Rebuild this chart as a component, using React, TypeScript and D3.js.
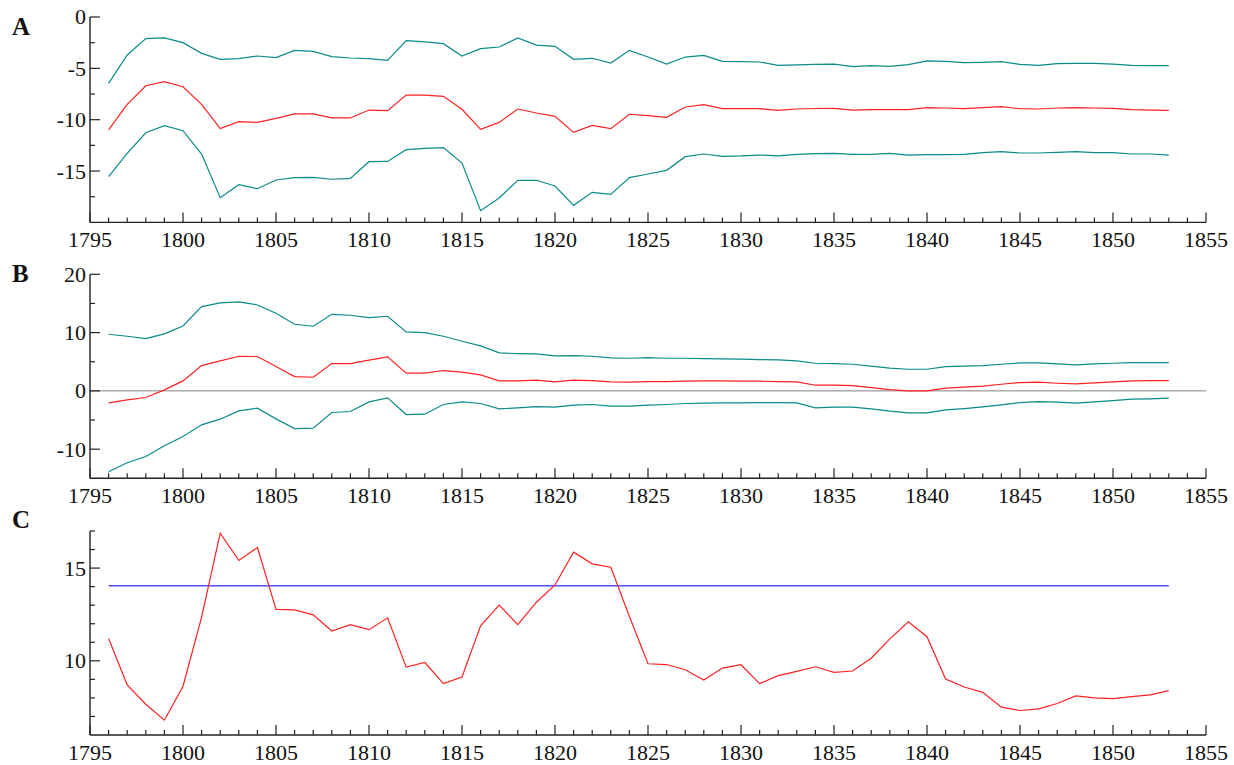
import React from "react";
import * as d3 from "d3";

const years = [
  1796, 1797, 1798, 1799, 1800, 1801, 1802, 1803, 1804, 1805,
  1806, 1807, 1808, 1809, 1810, 1811, 1812, 1813, 1814, 1815,
  1816, 1817, 1818, 1819, 1820, 1821, 1822, 1823, 1824, 1825,
  1826, 1827, 1828, 1829, 1830, 1831, 1832, 1833, 1834, 1835,
  1836, 1837, 1838, 1839, 1840, 1841, 1842, 1843, 1844, 1845,
  1846, 1847, 1848, 1849, 1850, 1851, 1852, 1853,
];

const aUpper = [
  -6.46, -3.7, -2.11, -2.04, -2.5, -3.54, -4.12, -4.06, -3.8, -3.96,
  -3.25, -3.34, -3.86, -3.99, -4.06, -4.22, -2.3, -2.43, -2.6, -3.8,
  -3.08, -2.92, -2.04, -2.73, -2.86, -4.12, -4.02, -4.48, -3.25, -3.9,
  -4.58, -3.9, -3.73, -4.32, -4.35, -4.38, -4.71, -4.67, -4.61, -4.58,
  -4.84, -4.74, -4.8, -4.64, -4.28, -4.32, -4.45, -4.41, -4.35, -4.61,
  -4.71, -4.54, -4.51, -4.51, -4.58, -4.71, -4.74, -4.74,
];
const aMid = [
  -11.0, -8.5, -6.69, -6.3, -6.79, -8.5, -10.87, -10.19, -10.26, -9.87,
  -9.44, -9.44, -9.83, -9.83, -9.06, -9.12, -7.6, -7.6, -7.72, -8.99,
  -10.94, -10.26, -8.96, -9.35, -9.67, -11.23, -10.55, -10.87, -9.47, -9.61,
  -9.77, -8.76, -8.54, -8.93, -8.93, -8.93, -9.09, -8.96, -8.91, -8.89,
  -9.06, -9.02, -9.02, -9.02, -8.83, -8.86, -8.93, -8.83, -8.73, -8.93,
  -8.96, -8.86, -8.83, -8.86, -8.89, -9.02, -9.06, -9.09,
];
const aLower = [
  -15.55, -13.28, -11.27, -10.58, -11.07, -13.34, -17.59, -16.33, -16.72, -15.87,
  -15.64, -15.61, -15.8, -15.71, -14.09, -14.06, -12.92, -12.79, -12.72, -14.22,
  -18.86, -17.62, -15.9, -15.9, -16.46, -18.34, -17.07, -17.27, -15.64, -15.29,
  -14.93, -13.6, -13.34, -13.57, -13.53, -13.44, -13.53, -13.37, -13.31, -13.28,
  -13.37, -13.37, -13.28, -13.44, -13.41, -13.41, -13.37, -13.21, -13.11, -13.24,
  -13.24, -13.18, -13.11, -13.21, -13.21, -13.34, -13.34, -13.44,
];

const bUpper = [
  9.71, 9.37, 8.97, 9.77, 11.14, 14.46, 15.09, 15.26, 14.74, 13.31,
  11.43, 11.09, 13.14, 12.97, 12.57, 12.8, 10.11, 10.0, 9.37, 8.51,
  7.71, 6.51, 6.4, 6.34, 6.0, 6.06, 5.94, 5.66, 5.6, 5.71,
  5.6, 5.6, 5.54, 5.49, 5.43, 5.37, 5.31, 5.14, 4.74, 4.69,
  4.57, 4.23, 3.89, 3.71, 3.71, 4.17, 4.23, 4.34, 4.57, 4.8,
  4.8, 4.63, 4.46, 4.63, 4.74, 4.86, 4.86, 4.86,
];
const bMid = [
  -2.06, -1.54, -1.14, 0.17, 1.71, 4.34, 5.14, 5.94, 5.89, 4.17,
  2.46, 2.34, 4.69, 4.69, 5.26, 5.83, 3.03, 3.03, 3.49, 3.2,
  2.74, 1.71, 1.71, 1.83, 1.54, 1.83, 1.77, 1.54, 1.49, 1.6,
  1.6, 1.66, 1.71, 1.71, 1.66, 1.66, 1.6, 1.54, 0.97, 0.97,
  0.91, 0.57, 0.23, 0, 0, 0.46, 0.63, 0.8, 1.14, 1.43,
  1.49, 1.31, 1.2, 1.37, 1.54, 1.71, 1.77, 1.77,
];
const bLower = [
  -13.89, -12.34, -11.26, -9.43, -7.83, -5.83, -4.86, -3.43, -2.97, -4.8,
  -6.46, -6.4, -3.71, -3.54, -1.89, -1.2, -4.06, -4.0, -2.34, -1.89,
  -2.17, -3.09, -2.91, -2.69, -2.8, -2.46, -2.34, -2.63, -2.63, -2.46,
  -2.34, -2.17, -2.11, -2.06, -2.06, -2.0, -2.0, -2.06, -2.91, -2.8,
  -2.8, -3.09, -3.49, -3.77, -3.77, -3.26, -3.03, -2.74, -2.4, -2.0,
  -1.83, -1.94, -2.11, -1.89, -1.66, -1.43, -1.37, -1.26,
];

const cValues = [
  11.2, 8.7, 7.66, 6.8, 8.63, 12.36, 16.88, 15.41, 16.11, 12.77,
  12.75, 12.48, 11.61, 11.95, 11.68, 12.32, 9.66, 9.91, 8.77, 9.13,
  11.89, 13.0, 11.95, 13.16, 14.09, 15.86, 15.23, 15.05, 12.39, 9.84,
  9.8, 9.52, 8.96, 9.61, 9.79, 8.77, 9.2, 9.43, 9.68, 9.38,
  9.45, 10.14, 11.18, 12.11, 11.3, 9.02, 8.59, 8.3, 7.5, 7.32,
  7.41, 7.7, 8.11, 8.0, 7.96, 8.07, 8.16, 8.39,
];
const cReference = 14.05;

const xMajorTicks = [1795, 1800, 1805, 1810, 1815, 1820, 1825, 1830, 1835, 1840, 1845, 1850, 1855];
const aYLabels = [-15, -10, -5, 0];
const aYMinor = [-17.5, -12.5, -7.5, -2.5];
const bYLabels = [-10, 0, 10, 20];
const bYMinor = [-5, 5, 15];
const cYLabels = [10, 15];
const cYMinor = [7, 8, 9, 11, 12, 13, 14, 16, 17];

const TEAL = "#0a8a8a";
const RED = "#ff2020";
const BLUE = "#5050ff";
const AXIS = "#222";
const FONT = "Liberation Serif";

const X0 = 90;
const X1 = 1206;
const x = d3.scaleLinear().domain([1795, 1855]).range([X0, X1]);

type PanelProps = {
  letter: string;
  letterY: number;
  domain: [number, number];
  top: number;
  bottom: number;
  labels: number[];
  minor: number[];
  children: (y: d3.ScaleLinear<number, number>) => React.ReactNode;
};

const textStyle: React.CSSProperties = { fontFamily: FONT, fontSize: "22px" };

function Panel({ letter, letterY, domain, top, bottom, labels, minor, children }: PanelProps) {
  const y = d3.scaleLinear().domain(domain).range([bottom, top]);
  const minorYears = d3.range(1796, 1855).filter((v) => v % 5 !== 0);
  return (
    <g>
      <text
        x={12}
        y={letterY}
        style={{ fontFamily: FONT, fontWeight: "bold", fontSize: "25px" }}
        fill="#111"
      >
        {letter}
      </text>
      {children(y)}
      <line x1={X0} x2={X0} y1={y(domain[1])} y2={bottom} stroke={AXIS} strokeWidth={1.4} />
      <line x1={X0} x2={X1} y1={bottom} y2={bottom} stroke={AXIS} strokeWidth={1.4} />
      {labels.map((v) => (
        <g key={"yl" + v}>
          <line x1={X0} x2={X0 + 10} y1={y(v)} y2={y(v)} stroke={AXIS} strokeWidth={1.2} />
          <text x={X0 - 4} y={y(v)} dy="0.34em" textAnchor="end" style={textStyle} fill="#111">
            {String(v)}
          </text>
        </g>
      ))}
      {minor.map((v) => (
        <line key={"ym" + v} x1={X0} x2={X0 + 5} y1={y(v)} y2={y(v)} stroke={AXIS} strokeWidth={1.2} />
      ))}
      {xMajorTicks.map((t) => (
        <g key={"xl" + t}>
          <line x1={x(t)} x2={x(t)} y1={bottom} y2={bottom - 10} stroke={AXIS} strokeWidth={1.2} />
          <text x={x(t)} y={bottom + 25} textAnchor="middle" style={textStyle} fill="#111">
            {String(t)}
          </text>
        </g>
      ))}
      {minorYears.map((t) => (
        <line key={"xm" + t} x1={x(t)} x2={x(t)} y1={bottom} y2={bottom - 5} stroke={AXIS} strokeWidth={1.2} />
      ))}
    </g>
  );
}

function seriesPath(y: d3.ScaleLinear<number, number>, vals: number[]) {
  const gen = d3
    .line<number>()
    .x((_, i) => x(years[i]))
    .y((d) => y(d));
  return gen(vals) || "";
}

export default function App() {
  return (
    <div style={{ position: "absolute", left: 0, top: 0 }}>
      <svg width={1234} height={765} style={{ display: "block", background: "#fff" }}>
        <Panel letter="A" letterY={35} domain={[-20, 0]} top={17} bottom={222.4} labels={aYLabels} minor={aYMinor}>
          {(y) => (
            <g fill="none" strokeWidth={1.2}>
              <path d={seriesPath(y, aUpper)} stroke={TEAL} />
              <path d={seriesPath(y, aMid)} stroke={RED} />
              <path d={seriesPath(y, aLower)} stroke={TEAL} />
            </g>
          )}
        </Panel>
        <Panel letter="B" letterY={282} domain={[-15, 20]} top={274.3} bottom={478.3} labels={bYLabels} minor={bYMinor}>
          {(y) => (
            <g fill="none" strokeWidth={1.2}>
              <line x1={X0} x2={X1} y1={y(0)} y2={y(0)} stroke="#808080" strokeWidth={1} />
              <path d={seriesPath(y, bUpper)} stroke={TEAL} />
              <path d={seriesPath(y, bMid)} stroke={RED} />
              <path d={seriesPath(y, bLower)} stroke={TEAL} />
            </g>
          )}
        </Panel>
        <Panel letter="C" letterY={528} domain={[6, 17]} top={531} bottom={735} labels={cYLabels} minor={cYMinor}>
          {(y) => (
            <g fill="none" strokeWidth={1.2}>
              <line
                x1={x(years[0])}
                x2={x(years[years.length - 1])}
                y1={y(cReference)}
                y2={y(cReference)}
                stroke={BLUE}
                strokeWidth={1.4}
              />
              <path d={seriesPath(y, cValues)} stroke={RED} />
            </g>
          )}
        </Panel>
      </svg>
    </div>
  );
}
